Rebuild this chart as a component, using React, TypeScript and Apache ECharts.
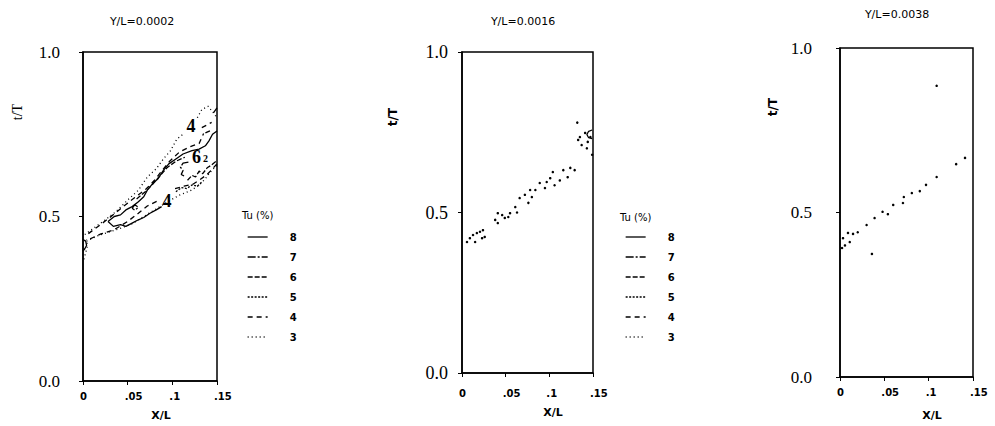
import React, { useEffect, useRef } from "react";
import * as echarts from "echarts";

// ---------- tick labels / categories ----------
const xTickValues = [0, 0.05, 0.1, 0.15];
const yTickValues = [0, 0.5, 1.0];
const levels = ["8", "7", "6", "5", "4", "3"];
const panelTitles = ["Y/L=0.0002", "Y/L=0.0016", "Y/L=0.0038"];

// ---------- panel 1 (Y/L=0.0002) contour fragments [x/L, t/T] ----------
const p1Tu3Upper = [[0.002, 0.445], [0.012, 0.465], [0.025, 0.49], [0.037, 0.515], [0.05, 0.55], [0.062, 0.58], [0.072, 0.62], [0.082, 0.645], [0.09, 0.675], [0.098, 0.7], [0.105, 0.735], [0.112, 0.75]];
const p1Tu3Top = [[0.128, 0.8], [0.133, 0.825], [0.14, 0.835], [0.146, 0.815], [0.15, 0.8]];
const p1Tu3Lower = [[0.004, 0.425], [0.015, 0.44], [0.028, 0.452], [0.04, 0.462], [0.055, 0.478], [0.068, 0.5], [0.08, 0.52], [0.095, 0.545], [0.108, 0.565], [0.12, 0.578], [0.13, 0.595], [0.137, 0.615], [0.144, 0.64], [0.15, 0.655]];
const p1Tu3Edge = [[0.001, 0.37], [0.003, 0.39], [0.005, 0.41], [0.004, 0.43]];
const p1Tu4Upper = [[0.006, 0.448], [0.018, 0.472], [0.03, 0.497], [0.045, 0.53], [0.058, 0.558], [0.07, 0.582], [0.08, 0.61], [0.088, 0.638], [0.097, 0.668], [0.108, 0.696], [0.12, 0.712], [0.13, 0.722], [0.135, 0.752]];
const p1Tu4TopA = [[0.133, 0.77], [0.144, 0.786]];
const p1Tu4TopB = [[0.137, 0.754], [0.145, 0.764]];
const p1Tu4LowerA = [[0.008, 0.432], [0.02, 0.447], [0.035, 0.46], [0.05, 0.485], [0.062, 0.51], [0.072, 0.532], [0.084, 0.548]];
const p1Tu4LowerB = [[0.103, 0.585], [0.113, 0.592], [0.123, 0.598], [0.131, 0.612], [0.139, 0.628], [0.145, 0.645], [0.15, 0.66]];
const p1Tu5 = [[0.104, 0.575], [0.11, 0.588], [0.116, 0.585], [0.122, 0.596], [0.128, 0.592], [0.133, 0.605]];
const p1Tu6Upper = [[0.06, 0.553], [0.07, 0.576], [0.078, 0.598], [0.086, 0.623], [0.094, 0.648], [0.104, 0.668], [0.114, 0.68]];
const p1Tu6Lower = [[0.117, 0.61], [0.122, 0.625], [0.126, 0.62], [0.13, 0.638], [0.134, 0.63], [0.139, 0.648], [0.143, 0.655], [0.15, 0.67]];
const p1Tu7Bracket = [[0.118, 0.665], [0.112, 0.662], [0.109, 0.65], [0.112, 0.64], [0.11, 0.628], [0.115, 0.62]];
const p1Tu7Loop = [[0.055, 0.525], [0.058, 0.536], [0.062, 0.528], [0.058, 0.519], [0.055, 0.525]];
const p1Tu8Upper = [[0.028, 0.485], [0.035, 0.5], [0.042, 0.505], [0.048, 0.52], [0.055, 0.53], [0.062, 0.545], [0.068, 0.56], [0.072, 0.58], [0.078, 0.6], [0.084, 0.615], [0.09, 0.64], [0.096, 0.66], [0.104, 0.675], [0.112, 0.69], [0.122, 0.7], [0.13, 0.705], [0.137, 0.715], [0.141, 0.73], [0.145, 0.75], [0.15, 0.76]];
const p1Tu8Lower = [[0.028, 0.485], [0.034, 0.47], [0.042, 0.475], [0.048, 0.47], [0.055, 0.48], [0.062, 0.49], [0.068, 0.497], [0.075, 0.51], [0.082, 0.52], [0.088, 0.53]];
const p1Tu8Edge = [[0.0, 0.43], [0.003, 0.425], [0.004, 0.412], [0.002, 0.402], [0.0, 0.395]];
const p1Tu8Top = [[0.146, 0.815], [0.15, 0.83]];
const p1Labels = [[0.121, 0.775, "4"], [0.127, 0.68, "6"], [0.094, 0.548, "4"]];
const p1SmallLabels = [[0.137, 0.676, "2"]];

// ---------- panel 2 (Y/L=0.0016) Tu=3 dotted fragments ----------
const p2Tu3Points = [[0.0057, 0.408], [0.009, 0.42], [0.0126, 0.43], [0.017, 0.436], [0.0206, 0.44], [0.024, 0.445], [0.026, 0.424], [0.023, 0.42], [0.015, 0.408], [0.038, 0.477], [0.041, 0.498], [0.046, 0.492], [0.049, 0.483], [0.053, 0.486], [0.055, 0.498], [0.041, 0.467], [0.061, 0.517], [0.063, 0.5], [0.066, 0.545], [0.072, 0.555], [0.076, 0.53], [0.08, 0.548], [0.078, 0.57], [0.084, 0.57], [0.089, 0.592], [0.095, 0.576], [0.097, 0.595], [0.101, 0.607], [0.104, 0.626], [0.106, 0.585], [0.112, 0.6], [0.116, 0.632], [0.121, 0.61], [0.124, 0.639], [0.129, 0.632], [0.132, 0.78], [0.133, 0.726], [0.135, 0.735], [0.137, 0.71], [0.141, 0.748], [0.143, 0.7], [0.144, 0.72], [0.147, 0.735], [0.149, 0.68]];
const p2Tu8Loop = [[0.149, 0.757], [0.145, 0.753], [0.143, 0.743], [0.145, 0.733], [0.149, 0.73]];

// ---------- panel 3 (Y/L=0.0038) Tu=3 dotted fragments ----------
const p3Tu3Points = [[0.0023, 0.392], [0.0056, 0.4], [0.0034, 0.422], [0.009, 0.438], [0.011, 0.41], [0.0147, 0.435], [0.02, 0.44], [0.03, 0.462], [0.039, 0.483], [0.048, 0.502], [0.054, 0.495], [0.06, 0.523], [0.071, 0.529], [0.072, 0.547], [0.081, 0.559], [0.09, 0.565], [0.097, 0.584], [0.109, 0.608], [0.131, 0.647], [0.141, 0.666], [0.109, 0.885], [0.036, 0.374]];

// ---------- styles ----------
const dashFor: Record<string, any> = {
  "8": "solid",
  "7": [8, 2, 2, 2],
  "6": [5, 2],
  "5": [2, 1.5],
  "4": [5, 4],
  "3": [1, 3],
};
const SANS = "DejaVu Sans";
const SERIF = "Liberation Serif";

const gridsPx = [
  { left: 83, top: 52, width: 134, height: 329 },
  { left: 462, top: 52, width: 131, height: 321 },
  { left: 840, top: 48, width: 133, height: 329 },
];
const yLabelMargin = [23, 14, 28];
const xLabelMargin = [10, 15, 10];
const yLabelSize = [17, 18, 17];

function contour(level: string, data: any[], gridIndex: number) {
  return {
    type: "line",
    name: level,
    xAxisIndex: gridIndex,
    yAxisIndex: gridIndex,
    data,
    symbol: "none",
    showSymbol: false,
    smooth: false,
    silent: true,
    clip: true,
    color: "#000",
    itemStyle: { color: "#000" },
    lineStyle: { color: "#000", width: 1.3, type: dashFor[level] },
  };
}

function dots(name: string, data: any[], gridIndex: number) {
  return {
    type: "scatter",
    name,
    xAxisIndex: gridIndex,
    yAxisIndex: gridIndex,
    data,
    symbol: "circle",
    symbolSize: 2.5,
    silent: true,
    itemStyle: { color: "#000", opacity: 1 },
  };
}

function labels(name: string, data: any[], gridIndex: number, size: number) {
  return {
    type: "scatter",
    name,
    xAxisIndex: gridIndex,
    yAxisIndex: gridIndex,
    data,
    symbolSize: 0,
    silent: true,
    itemStyle: { color: "#000", opacity: 1 },
    label: {
      show: true,
      position: "inside",
      formatter: (p: any) => p.value[2],
      fontFamily: SERIF,
      fontSize: size,
      fontWeight: "bold",
      color: "#000",
      opacity: 1,
      textBorderWidth: 0,
      textBorderColor: "transparent",
      backgroundColor: "#fff",
      padding: [0, 1],
    },
  };
}

export default function App() {
  const ref = useRef<HTMLDivElement>(null);

  useEffect(() => {
    if (!ref.current) return;
    const chart = echarts.init(ref.current, undefined, { renderer: "svg" });

    const grid = gridsPx.map((g) => ({
      ...g,
      show: true,
      borderColor: "#000",
      borderWidth: 1.5,
      backgroundColor: "transparent",
      containLabel: false,
    }));

    const xAxis = gridsPx.map((_, i) => ({
      type: "value",
      gridIndex: i,
      min: xTickValues[0],
      max: xTickValues[xTickValues.length - 1],
      interval: 0.05,
      axisLine: { show: true, onZero: false, lineStyle: { color: "#000", width: 1.5 } },
      axisTick: { show: true, inside: false, length: 4, lineStyle: { color: "#000", width: 1 } },
      splitLine: { show: false },
      axisLabel: {
        show: true,
        showMinLabel: true,
        showMaxLabel: true,
        margin: xLabelMargin[i],
        align: "left",
        padding: [0, 0, 0, -3],
        color: "#000",
        fontFamily: SANS,
        fontWeight: "bold",
        fontSize: 10,
        formatter: (v: number) => {
          const s = String(+v.toFixed(2));
          return s.replace(/^0\./, ".");
        },
      },
    }));

    const yAxis = gridsPx.map((_, i) => ({
      type: "value",
      gridIndex: i,
      min: yTickValues[0],
      max: yTickValues[yTickValues.length - 1],
      interval: 0.5,
      axisLine: { show: true, onZero: false, lineStyle: { color: "#000", width: 1.5 } },
      axisTick: { show: true, inside: false, length: 4, lineStyle: { color: "#000", width: 1 } },
      splitLine: { show: false },
      axisLabel: {
        show: true,
        showMinLabel: true,
        showMaxLabel: true,
        margin: yLabelMargin[i],
        color: "#000",
        fontFamily: SERIF,
        fontSize: yLabelSize[i],
        formatter: (v: number) => v.toFixed(1),
      },
    }));

    const series: any[] = [
      contour("8", p1Tu8Upper, 0),
      contour("8", p1Tu8Lower, 0),
      contour("8", p1Tu8Edge, 0),
      contour("8", p1Tu8Top, 0),
      contour("7", p1Tu7Bracket, 0),
      contour("7", p1Tu7Loop, 0),
      contour("6", p1Tu6Upper, 0),
      contour("6", p1Tu6Lower, 0),
      contour("5", p1Tu5, 0),
      contour("4", p1Tu4Upper, 0),
      contour("4", p1Tu4TopA, 0),
      contour("4", p1Tu4TopB, 0),
      contour("4", p1Tu4LowerA, 0),
      contour("4", p1Tu4LowerB, 0),
      contour("3", p1Tu3Upper, 0),
      contour("3", p1Tu3Top, 0),
      contour("3", p1Tu3Lower, 0),
      contour("3", p1Tu3Edge, 0),
      labels("contour labels", p1Labels, 0, 18),
      labels("contour sub-labels", p1SmallLabels, 0, 10),
      dots("Tu 3 fragments (Y/L=0.0016)", p2Tu3Points, 1),
      contour("8", p2Tu8Loop, 1),
      dots("Tu 3 fragments (Y/L=0.0038)", p3Tu3Points, 2),
    ];

    const legendBase = {
      data: levels.map((name) => ({ name, itemStyle: { opacity: 0 } })),
      orient: "vertical",
      top: 227,
      itemWidth: 20,
      itemHeight: 10,
      itemGap: 10,
      selectedMode: false,
      itemStyle: { opacity: 0, borderWidth: 0 },
      lineStyle: { color: "#000", width: 1.3 },
      textStyle: {
        color: "#000",
        fontFamily: SANS,
        fontWeight: "bold",
        fontSize: 10,
        lineHeight: 10,
        padding: [0, 0, 0, 17],
      },
    };

    const title = panelTitles.map((t, i) => ({
      text: t,
      left: [137, 518, 892][i],
      top: [11, 11, 4][i],
      textAlign: "center",
      textStyle: { color: "#000", fontFamily: SANS, fontSize: 11, fontWeight: "normal" },
    }));

    const txt = (text: string, x: number, y: number, font: string, rot = 0) => ({
      type: "text",
      x,
      y,
      rotation: rot,
      silent: true,
      style: { text, fill: "#000", font, textAlign: "center", textVerticalAlign: "middle" },
    });

    const graphic = [
      txt("t/T", 17, 112, `14px "${SERIF}"`, Math.PI / 2),
      txt("t/T", 393, 117, `bold 12px "${SANS}"`, Math.PI / 2),
      txt("t/T", 773, 107, `bold 12px "${SANS}"`, Math.PI / 2),
      txt("X/L", 161, 415, `bold 11px "${SANS}"`),
      txt("X/L", 553, 412, `bold 11px "${SANS}"`),
      txt("X/L", 932, 415, `bold 11px "${SANS}"`),
      { type: "text", x: 242, y: 215, silent: true, style: { text: "Tu (%)", fill: "#000", font: `10px "${SANS}"`, textAlign: "left", textVerticalAlign: "middle" } },
      { type: "text", x: 620, y: 217, silent: true, style: { text: "Tu (%)", fill: "#000", font: `10px "${SANS}"`, textAlign: "left", textVerticalAlign: "middle" } },
    ];

    chart.setOption({
      animation: false,
      backgroundColor: "#fff",
      color: ["#000"],
      title,
      grid,
      xAxis,
      yAxis,
      legend: [
        { ...legendBase, left: 242 },
        { ...legendBase, left: 620 },
      ],
      graphic,
      series,
    } as any);

    return () => chart.dispose();
  }, []);

  return (
    <div
      ref={ref}
      style={{ position: "fixed", left: 0, top: 0, width: 995, height: 426, background: "#fff" }}
    />
  );
}
